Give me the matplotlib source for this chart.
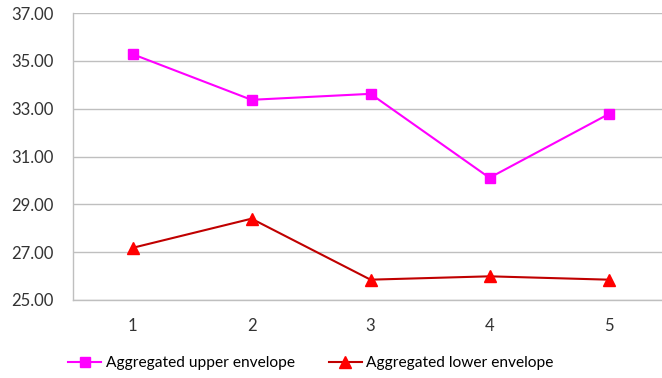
import matplotlib
matplotlib.use("Agg")
import matplotlib.pyplot as plt
import numpy as np

# Envelope values per group
grupos = [1, 2, 3, 4, 5]
upper_env = [35.28, 33.37, 33.62, 30.11, 32.77]
lower_env = [27.18, 28.40, 25.85, 25.99, 25.85]

plt.rcParams["font.family"] = ["Lato", "DejaVu Sans"]

fig = plt.figure(figsize=(6.62, 3.78), dpi=100)
ax = fig.add_axes([73 / 662, 78 / 378, 595 / 662, 287 / 378])

ax.plot(grupos, upper_env, color="#FF00FF", linewidth=1.5, marker="s",
        markersize=7.5, markerfacecolor="#FF00FF", markeredgecolor="#FF00FF",
        label="Aggregated upper envelope")
ax.plot(grupos, lower_env, color="#C00000", linewidth=1.5, marker="^",
        markersize=8, markerfacecolor="#FF0000", markeredgecolor="#FF0000",
        label="Aggregated lower envelope")

ax.set_xlim(0.5, 5.5)
ax.set_ylim(25, 37)
ax.set_xticks(grupos)
ax.set_yticks(np.arange(25, 38, 2))
ax.set_yticklabels([f"{v:.2f}" for v in np.arange(25, 38, 2)])
ax.tick_params(length=0, labelsize=12, colors="#333333", pad=14)
ax.tick_params(axis="x", pad=13)

ax.grid(axis="y", color="#BFBFBF", linewidth=1)
ax.set_axisbelow(True)
for lado in ["top", "right"]:
    ax.spines[lado].set_visible(False)
for lado in ["left", "bottom"]:
    ax.spines[lado].set_color("#BFBFBF")
    ax.spines[lado].set_linewidth(1)

fig.legend(loc="center", bbox_to_anchor=(311 / 662, 1 - 363 / 378), ncol=2,
           frameon=False, fontsize=11.2, handlelength=2.1, handletextpad=0.3,
           columnspacing=2.2)

fig.savefig("out.png", dpi=100)
